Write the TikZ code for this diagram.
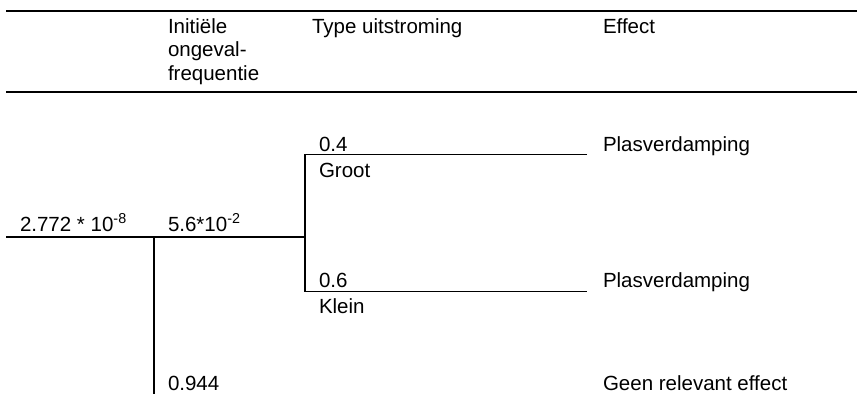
\documentclass[tikz,border=0pt]{standalone}
\usepackage{fontspec}
\setmainfont{Liberation Sans}
\begin{document}
\begin{tikzpicture}[x=1pt,y=-1pt,
  lbl/.style={anchor=base west,inner sep=0pt,outer sep=0pt,font=\fontsize{20.5}{23.5}\selectfont},
  hdr/.style={lbl,align=left},
  rule/.style={line width=2pt},
  branch/.style={line width=1.3pt}]
\useasboundingbox (0,0) rectangle (857,394);
% table rules
\coordinate (t0) at (6,11);  \coordinate (t1) at (857,11);
\coordinate (h0) at (6,92);  \coordinate (h1) at (857,92);
\draw[rule] (t0) -- (t1);
\draw[rule] (h0) -- (h1);
% column headers (the three-line header is placed by its last baseline)
\node[hdr] (hInit) at (168,80) {Initiële\\ongeval-\\frequentie};
\node[lbl] (hType) at (312,33) {Type uitstroming};
\node[lbl] (hEff) at (603,33) {Effect};
% tree junctions
\coordinate (root) at (6,237);
\coordinate (j1) at (154,237);
\coordinate (j2) at (305,237);
\coordinate (j1b) at (154,394);
\coordinate (gTop) at (305,154.5);
\coordinate (gEnd) at (587,154.5);
\coordinate (kTop) at (305,291.5);
\coordinate (kEnd) at (587,291.5);
\draw[branch] (root) -- (j2);
\draw[branch] (j1) -- (j1b);
\draw[branch] (gEnd) -- (gTop) -- (kTop) -- (kEnd);
% labels
\node[lbl] (fTot) at (20,231) {2.772 * 10\textsuperscript{-8}};
\node[lbl] (fInit) at (168,231) {5.6*10\textsuperscript{-2}};
\node[lbl] (pG) at (319,151) {0.4};
\node[lbl] (nG) at (319,177) {Groot};
\node[lbl] (eG) at (603,151) {Plasverdamping};
\node[lbl] (pK) at (319,287) {0.6};
\node[lbl] (nK) at (319,313) {Klein};
\node[lbl] (eK) at (603,287) {Plasverdamping};
\node[lbl] (pN) at (168,390) {0.944};
\node[lbl] (eN) at (603,390) {Geen relevant effect};
\end{tikzpicture}
\end{document}
